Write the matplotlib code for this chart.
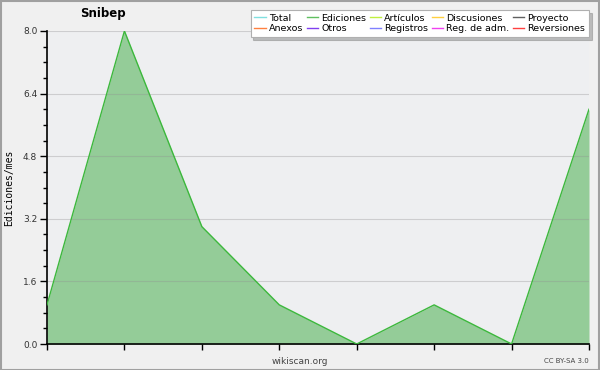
import matplotlib
matplotlib.use("Agg")
import matplotlib.pyplot as plt
from matplotlib.lines import Line2D
from matplotlib.patches import Rectangle
import numpy as np

months = list(range(8))
ediciones = [1, 8, 3, 1, 0, 1, 0, 6]
yticks = [0.0, 1.6, 3.2, 4.8, 6.4, 8.0]
legend_names = ["Total", "Anexos", "Ediciones", "Otros", "Artículos", "Registros",
                "Discusiones", "Reg. de adm.", "Proyecto", "Reversiones"]
legend_colors = ["#80e0e0", "#ff8040", "#60c060", "#8040f0", "#c0f040", "#8080ff",
                 "#ffd040", "#f040f0", "#606060", "#ff4040"]

fig = plt.figure(figsize=(6, 3.7), dpi=100, facecolor="#f0f0f0")
fig.patches.append(Rectangle((0.001, 0.001), 0.997, 0.997, transform=fig.transFigure,
                             fill=False, edgecolor="#a0a0a0", linewidth=1.5))
ax = fig.add_axes([47/600, 26/370, 542/600, 313/370])
ax.set_facecolor("#eeeff1")
ax.fill_between(months, ediciones, 0, color="#94cc98", linewidth=0, zorder=1)
ax.plot(months, ediciones, color="#3cb83c", linewidth=1, zorder=3)
ax.set_xlim(0, 7)
ax.set_ylim(0, 8)
ax.set_yticks(yticks)
ax.set_yticklabels([f"{v:.1f}" for v in yticks], fontsize=6.5, color="#333333")
ax.set_yticks(np.arange(0, 8.01, 0.4), minor=True)
ax.set_xticks(months)
ax.set_xticklabels([])
ax.tick_params(axis="y", which="major", length=5, width=1, pad=2)
ax.tick_params(axis="y", which="minor", length=3, width=1)
ax.tick_params(axis="x", which="major", length=4, width=1)
ax.grid(axis="y", which="major", color="#909090", alpha=0.35, linewidth=0.8, zorder=2)
ax.set_axisbelow(False)
for s in ["top", "right"]:
    ax.spines[s].set_visible(False)
ax.spines["left"].set_linewidth(1.2)
ax.spines["bottom"].set_linewidth(1.2)
ax.set_ylabel("Ediciones/mes", fontsize=7, family="DejaVu Sans Mono", labelpad=6)

fig.text(103/600, 1 - 14/370, "Snibep", fontsize=8.5, fontweight="bold", ha="center", va="center")
fig.text(300/600, 1 - 361/370, "wikiscan.org", fontsize=6.5, ha="center", va="center", color="#444444")
fig.text(589/600, 1 - 361/370, "CC BY-SA 3.0", fontsize=5, ha="right", va="center", color="#444444")

handles = [Line2D([], [], color=c, linewidth=1) for c in legend_colors]
leg = fig.legend(handles, legend_names, ncol=5, loc="upper right",
                 bbox_to_anchor=(589/600, 1 - 10/370), fontsize=6.8,
                 frameon=True, fancybox=False, shadow={"color": "#888888"},
                 handlelength=1.2, handletextpad=0.35, columnspacing=0.35,
                 labelspacing=0.15, borderpad=0.4, borderaxespad=0)
leg.get_frame().set_edgecolor("#b0b0b0")
leg.get_frame().set_linewidth(0.8)
leg.get_frame().set_facecolor("white")

fig.savefig("out.png", dpi=100, facecolor=fig.get_facecolor())
